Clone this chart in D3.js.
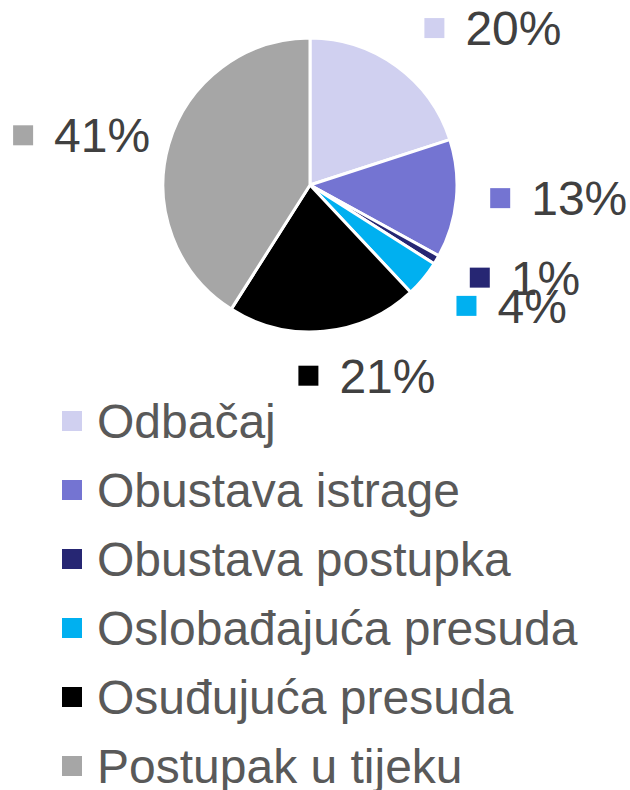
<!DOCTYPE html>
<html><head><meta charset="utf-8">
<script src="https://cdn.jsdelivr.net/npm/d3@7/dist/d3.min.js"></script>
<style>body{margin:0;background:#fff}svg{display:block}</style>
</head><body><svg id="c" width="630" height="790"></svg>
<script>
const categories = ["Odbačaj","Obustava istrage","Obustava postupka","Oslobađajuća presuda","Osuđujuća presuda","Postupak u tijeku"];
const values = [20, 13, 1, 4, 21, 41];
const labels = ["20%","13%","1%","4%","21%","41%"];
const colors = ["#D0D0F0","#7474D2","#262673","#00B0F0","#000000","#A6A6A6"];
// label nudges (layout only)
const labelNudge = [[8,6],[0,-7],[4,-16],[7,-11],[27,-6],[14,10]];

const svg = d3.select("#c");
const cx = 310, cy = 185, R = 147;
const font = "'Liberation Sans', Arial, sans-serif";

const pie = d3.pie().sort(null).value(d => d)(values);
const arc = d3.arc().innerRadius(0).outerRadius(R);
const g = svg.append("g").attr("transform", `translate(${cx},${cy})`);
g.selectAll("path").data(pie).join("path")
  .attr("d", arc).attr("fill", (d,i) => colors[i])
  .attr("stroke", "#fff").attr("stroke-width", 3).attr("stroke-linejoin","round");

// data labels
const fs = 48, D = 181, h = 33, box = 20, gap = 21;
const clamp = v => Math.max(-1, Math.min(1, v));
pie.forEach((d, i) => {
  const a = (d.startAngle + d.endAngle) / 2;
  const dx = Math.sin(a), dy = -Math.cos(a);
  const tmp = svg.append("text").attr("font-family", font).attr("font-size", fs).text(labels[i]);
  const tw = tmp.node().getComputedTextLength(); tmp.remove();
  const w = box + gap + tw;
  const px = cx + D*dx, py = cy + D*dy;
  const bx = px + w/2*clamp(dx*2) + labelNudge[i][0];
  const by = py + h/2*clamp(dy*2) + labelNudge[i][1];
  const left = bx - w/2;
  svg.append("rect").attr("x", left).attr("y", by - box/2).attr("width", box).attr("height", box).attr("fill", colors[i]);
  svg.append("text").attr("x", left + box + gap).attr("y", by + 17)
    .attr("font-family", font).attr("font-size", fs).attr("fill", "#404040").text(labels[i]);
});

// legend
const lg = svg.append("g");
categories.forEach((c, i) => {
  const y = 421 + i*69;
  lg.append("rect").attr("x", 62).attr("y", y - 10).attr("width", 20).attr("height", 20).attr("fill", colors[i]);
  lg.append("text").attr("x", 97).attr("y", y + 17).attr("font-family", font).attr("font-size", fs)
    .attr("fill", "#595959").text(c);
});
</script></body></html>
